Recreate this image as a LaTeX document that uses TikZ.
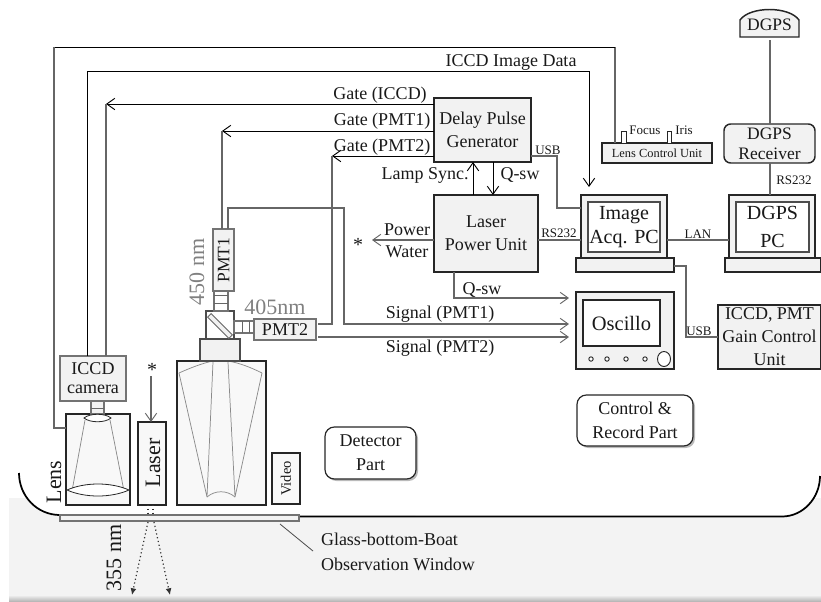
\documentclass[tikz,border=0pt]{standalone}
\usepackage{fontspec}
\setmainfont{Liberation Serif}
\usetikzlibrary{shadows,arrows.meta,calc}
\definecolor{boxfill}{HTML}{F2F2F2}
\definecolor{innerfill}{HTML}{F8F8F8}
\definecolor{water}{HTML}{F3F3F3}
\definecolor{optic}{HTML}{8A8A8A}
\newcommand{\fpx}[1]{\pgfmathsetmacro\fsz{#1*0.75}\pgfmathsetmacro\lsz{#1*0.75*1.2}\fontsize{\fsz}{\lsz}\selectfont}
% #1 style, #2 name, #3-#6 x1 y1 x2 y2, #7 text
\newcommand{\pb}[7]{%
  \pgfmathsetmacro\cxx{(#3+#5)/2}\pgfmathsetmacro\cyy{(#4+#6)/2}%
  \pgfmathsetmacro\wdd{(#5-#3)*0.75}\pgfmathsetmacro\htt{(#6-#4)*0.75}%
  \node[#1,minimum width=\wdd pt,minimum height=\htt pt] (#2) at (\cxx,\cyy) {#7};}
\tikzset{
  x=0.75pt,y=-0.75pt,
  every node/.style={inner sep=0pt,outer sep=0pt,align=center,text=black!90},
  lab/.style={font=\fpx{18}},
  small/.style={font=\fpx{13}},
  bk/.style={draw=black!85,line width=1.1pt,fill=boxfill,font=\fpx{18}},
  inner/.style={draw=black!85,line width=1.1pt,fill=innerfill},
  gbx/.style={draw=black!55,line width=0.8pt,fill=boxfill,font=\fpx{18}},
  screen/.style={draw=black!70,line width=0.8pt,fill=white},
  rbox/.style={draw=black!85,line width=0.9pt,fill=white,rounded corners=7pt,font=\fpx{18},
    drop shadow={shadow xshift=1.5pt,shadow yshift=-1.5pt,opacity=0.45,fill=black!60}},
  wr/.style={draw=black,line width=0.7pt},
  wg/.style={draw=black!60,line width=0.8pt},
  ar/.style={-{Straight Barb[length=6pt,width=8.5pt,line width=0.7pt]}},
  opt/.style={draw=optic,line width=0.55pt},
  gtext/.style={text=black!50,font=\fpx{22}},
  dot/.style={draw=black!80,line width=0.9pt,dotted},
}
\begin{document}
\begin{tikzpicture}
\useasboundingbox (0,0) rectangle (821,601);
% water and hull
\fill[water] (9,498) rectangle (821,601);
\shade[top color=water,bottom color=black!28] (9,595) rectangle (821,601);
\fill[white] (19,473) .. controls (19,496) and (37,515) .. (60,515) -- (782,516.5) .. controls (803,516.5) and (820,498) .. (820,476) -- (820,470) -- (19,470) -- cycle;
\draw[black,line width=1.3pt] (19,473) .. controls (19,496) and (37,515) .. (60,515);
\draw[black,line width=1.3pt] (299,516.5) -- (782,516.5) .. controls (803,516.5) and (820,498) .. (820,476);
\pb{draw=black!55,line width=0.8pt,fill=water}{window}{60}{515}{299}{521}{}

% detector part
\pb{inner}{lenshouse}{66}{414}{130}{505}{}
\pb{inner}{laserbox}{138}{422}{166}{505}{}
\pb{inner}{tele}{177}{361}{266}{505}{}
\pb{inner}{video}{272}{453}{300}{504}{}
\node[rotate=90,font=\fpx{22}] (lasertxt) at (153,463) {Laser};
\node[rotate=90,font=\fpx{14.5}] at (video.center) {Video};
\node[rotate=90,font=\fpx{22}] (lenstxt) at (54,482) {Lens};
\pb{gbx}{iccd}{60}{356}{126}{401}{ICCD\\[-2pt]camera}
\pb{gbx}{couplea}{91}{401}{104}{414}{}
\draw[wr,draw=black!60] (91,408) -- (104,408);
% lens interior
\draw[opt] (85,420) -- (72,491) (110,420) -- (124,491);
\draw[black!85,line width=0.6pt,fill=white] (84,418) .. controls (90,413) and (105,413) .. (111,418) .. controls (105,423) and (90,423) .. (84,418) -- cycle;
\draw[black!85,line width=0.6pt,fill=white] (67,490) .. controls (85,482) and (111,482) .. (129,490) .. controls (111,498) and (85,498) .. (67,490) -- cycle;
% telescope interior
\draw[opt] (179,373) .. controls (190,368) and (203,363) .. (213,361) (262,373) .. controls (252,368) and (240,363) .. (228,361);
\draw[opt] (179,373) -- (207,497) (262,373) -- (235,497) (213,362) -- (207,497) (228,362) -- (235,497);
\draw[opt] (207,497) .. controls (215,490) and (227,490) .. (235,497);
\pb{gbx,draw=black!70}{teletop}{200}{339}{240}{361}{}
\pb{gbx,draw=black!70,fill=white}{cube}{206}{311}{234}{339}{}
\draw[draw=black!60,line width=0.7pt,fill=boxfill,rotate around={-45:(220,326)}] (205,323.5) rectangle (235,328.5);
\pb{gbx}{pmta}{213}{229}{234}{291}{}
\node[rotate=90,font=\fpx{17.5}] at (pmta.center) {PMT1};
\pb{gbx,fill=white}{coupleb}{214}{291}{228}{311}{}
\draw[wr,draw=black!60] (214,295) -- (228,295) (214,303) -- (228,303);
\pb{gbx}{pmtb}{254}{319}{316}{340}{PMT2}
\pb{gbx,fill=white}{couplec}{234}{321}{254}{333}{}
\draw[wr,draw=black!60] (242,321) -- (242,333) (249,321) -- (249,333);
\node[gtext,rotate=90] at (197,272) {450 nm};
\node[gtext] at (275,307) {405nm};
% laser beam
\node (stara) at (152,370) [font=\fpx{20}] {*};
\coordinate (starab) at (151,376);
\draw[wg,ar] (starab) -- (laserbox.north -| starab);
\draw[dot] (148,505) -- (148,515) (153,505) -- (153,515);
\coordinate (beama) at (132,595);\coordinate (beamb) at (170,595);
\draw[dot,-{Latex[length=5pt,width=4.5pt]}] (148,522) -- (beama);
\draw[dot,-{Latex[length=5pt,width=4.5pt]}] (154,522) -- (beamb);
\node[rotate=90,font=\fpx{22}] at (114,558) {355 nm};
% labels
\pb{rbox}{detpart}{325}{427}{416}{479}{Detector\\[2pt]Part}
\pb{rbox}{ctrlpart}{577}{395}{693}{446}{Control \&\\[2pt]Record Part}
\node[lab,align=left,anchor=west] (glass) at (321,552) {Glass-bottom-Boat\\[2pt]Observation Window};
\coordinate (glassa) at (280,524);\coordinate (glassb) at (313,551);
\draw[draw=black!70,line width=0.6pt] (glassa) -- (glassb);

% control units
\pb{bk}{dpg}{434}{98}{531}{162}{Delay Pulse\\[1pt]Generator}
\pb{bk}{lpu}{434}{195}{538}{272}{Laser\\[1pt]Power Unit}
% image PC
\pb{bk}{imgbase}{576}{258}{674}{272}{}
\pb{bk}{imgpc}{581}{195}{667}{258}{}
\pb{screen}{imgscr}{588}{202}{660}{252}{}
\node[font=\fpx{20}] at (imgscr.center) {Image\\[0pt]Acq. PC};
% DGPS PC
\pb{bk}{gpsbase}{725}{258}{821}{272}{}
\pb{bk}{gpspc}{729}{195}{815}{258}{}
\pb{screen}{gpsscr}{736}{202}{809}{252}{}
\node[font=\fpx{20}] at (gpsscr.center) {DGPS\\[3pt]PC};
% DGPS receiver & dome
\pb{bk,rounded corners=5pt,font=\fpx{17.5}}{rcv}{724}{124}{815}{163}{DGPS\\[-1pt]Receiver}
\draw[bk] (740,37) -- (740,20) .. controls (750,6) and (789,6) .. (799,20) -- (799,37) -- cycle;
\node[font=\fpx{17.5}] (dome) at (769.5,25) {DGPS};
\coordinate (domeb) at (770,40);
\draw[wg] (domeb) -- (rcv.north -| domeb);
\draw[wg] (rcv.south -| domeb) -- (gpspc.north -| domeb);
\node[small] at (794,180) {RS232};
% lens control unit
\pb{bk,font=\fpx{12.4}}{lcu}{602}{143}{712}{163}{Lens Control Unit}
\draw[draw=black!85,line width=0.7pt,fill=white] (621,143) -- (621,131) -- (626,131) -- (626,143);
\draw[draw=black!85,line width=0.7pt,fill=white] (667,143) -- (667,131) -- (671,131) -- (671,143);
\node[small] at (645,130) {Focus};
\node[small] at (684,130) {Iris};
% oscillo
\pb{bk}{osc}{576}{292}{674}{369}{}
\pb{screen,draw=black!85}{oscscr}{583}{300}{660}{346}{}
\node[font=\fpx{20.5}] at (oscscr.center) {Oscillo};
\foreach \k/\xx in {a/591,b/607,c/626,d/645}{
  \draw[black!85,line width=0.7pt,fill=white] (\xx,359) circle[radius=2.2];}
\draw[black!85,line width=0.7pt,fill=white] (664,359) ellipse[x radius=6.5,y radius=7.5];
\pb{bk,font=\fpx{18}}{gain}{718}{305}{821}{369}{ICCD, PMT\\[1pt]Gain Control\\[1pt]Unit}

% wires
\coordinate (w1a) at (615,47);\coordinate (w1b) at (54,47);\coordinate (w1c) at (54,428);
\draw[wg] (lcu.north -| w1a) -- (w1a);
\draw[wr] (w1a) -- (w1b);
\draw[wg] (w1b) -- (w1c) -- (lenshouse.west |- w1c);
\coordinate (w2a) at (87,71);\coordinate (w2b) at (589,71);
\draw[wr,ar] (iccd.north -| w2a) -- (w2a) -- (w2b) -- (589,187);
\coordinate (g1) at (106,104);
\draw[wr,ar] (dpg.west |- g1) -- (g1);
\draw[wg] (g1) -- (iccd.north -| g1);
\coordinate (g2) at (222,131);
\draw[wr,ar] (dpg.west |- g2) -- (g2);
\draw[wg] (g2) -- (pmta.north -| g2);
\coordinate (g3) at (332,156);\coordinate (g3b) at (332,324);\coordinate (g3c) at (318,324);
\draw[wr,ar] (dpg.west |- g3) -- (g3);
\draw[wg] (g3) -- (g3b) -- (g3c);
\coordinate (lamp) at (473,178);
\draw[wr,ar] (lpu.north -| lamp) -- (dpg.south -| lamp);
\coordinate (qsw) at (493,178);
\draw[wr,ar] (dpg.south -| qsw) -- (lpu.north -| qsw);
\coordinate (pw) at (372,240);
\draw[wg,ar] (lpu.west |- pw) -- (pw);
\coordinate (qa) at (454,298);\coordinate (qb) at (569,298);
\draw[wg,ar] (lpu.south -| qa) -- (qa) -- (qb);
\coordinate (s1a) at (228,208);\coordinate (s1b) at (344,208);\coordinate (s1c) at (344,324);\coordinate (s1d) at (569,324);
\draw[wg,ar] (pmta.north -| s1a) -- (s1a) -- (s1b) -- (s1c) -- (s1d);
\coordinate (s2a) at (318,337);\coordinate (s2b) at (569,337);
\draw[wg,line width=1pt,ar] (s2a) -- (s2b);
\coordinate (usba) at (557,156);\coordinate (usbb) at (557,208);
\draw[wg] (dpg.east |- usba) -- (usba) -- (usbb) -- (imgpc.west |- usbb);
\coordinate (rs) at (560,240);
\draw[wg] (lpu.east |- rs) -- (imgpc.west |- rs);
\coordinate (lan) at (700,240);
\draw[wg] (imgpc.east |- lan) -- (gpspc.west |- lan);
\coordinate (ua) at (686,266);\coordinate (ub) at (686,337);
\draw[wg] (imgbase.east |- ua) -- (ua) -- (ub) -- (gain.west |- ub);

% wire labels
\node[lab] at (511,62) {ICCD Image Data};
\node[lab] at (380,95) {Gate (ICCD)};
\node[lab] at (382,121) {Gate (PMT1)};
\node[lab] at (382,147) {Gate (PMT2)};
\node[lab] at (425,175) {Lamp Sync.};
\node[lab] at (520,175) {Q-sw};
\node[lab] at (482,290) {Q-sw};
\node[lab] at (440,314) {Signal (PMT1)};
\node[lab] at (440,348) {Signal (PMT2)};
\node[lab] at (407,230) {Power};
\node[lab] at (407,252) {Water};
\node[font=\fpx{20}] at (358,245) {*};
\node[small] at (548,150) {USB};
\node[small] at (559,233) {RS232};
\node[small] at (698,234) {LAN};
\node[small] at (699,331) {USB};
\end{tikzpicture}
\end{document}
